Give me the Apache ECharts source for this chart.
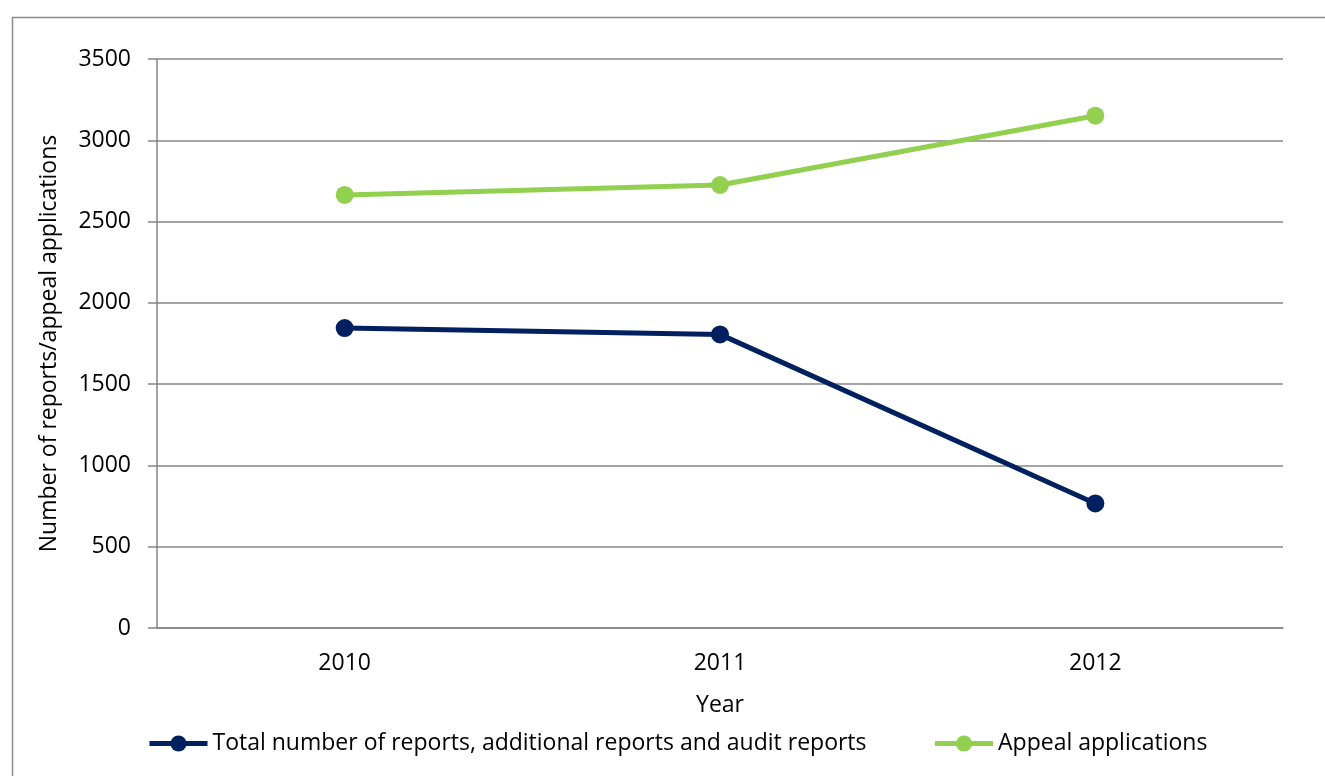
<!DOCTYPE html>
<html>
<head>
<meta charset="utf-8">
<script src="https://cdn.jsdelivr.net/npm/echarts@6/dist/echarts.min.js"></script>
<style>
html,body{margin:0;padding:0;background:#fff;}
#chart{width:1325px;height:776px;}
</style>
</head>
<body>
<div id="chart"></div>
<script>
const years = ['2010', '2011', '2012'];
const reportsName = 'Total number of reports, additional reports and audit reports';
const appealsName = 'Appeal applications';
const reportsValues = [1845, 1806, 766];
const appealsValues = [2664, 2725, 3151];
const yTicks = { min: 0, max: 3500, interval: 500 };

const FONT = 'Open Sans';
const FS = 23;
const chart = echarts.init(document.getElementById('chart'), null, { renderer: 'canvas' });
chart.setOption({
  animation: false,
  backgroundColor: '#ffffff',
  textStyle: { fontFamily: FONT, color: '#000' },
  graphic: [{
    type: 'rect', left: 10, top: 15,
    shape: { width: 1400, height: 800 },
    style: { fill: 'none', stroke: '#8c8c8c', lineWidth: 1.5 },
    silent: true
  }],
  grid: { left: 157, top: 59, right: 42, bottom: 148, containLabel: false },
  legend: {
    left: 147, top: 732, padding: 0,
    itemWidth: 58, itemHeight: 20, itemGap: 66,
    lineStyle: { width: 5 },
    textStyle: { fontFamily: FONT, fontSize: FS, color: '#000' },
    data: [reportsName, appealsName]
  },
  xAxis: {
    type: 'category', data: years, boundaryGap: true,
    name: 'Year', nameLocation: 'middle', nameGap: 66,
    nameTextStyle: { fontFamily: FONT, fontSize: FS, color: '#000' },
    axisLine: { lineStyle: { color: '#868686', width: 1.5 } },
    axisTick: { show: false },
    axisLabel: { fontFamily: FONT, fontSize: FS, color: '#000', margin: 24 },
    splitLine: { show: false }
  },
  yAxis: {
    type: 'value', min: yTicks.min, max: yTicks.max, interval: yTicks.interval,
    name: 'Number of reports/appeal applications', nameLocation: 'middle', nameGap: 96,
    nameTextStyle: { fontFamily: FONT, fontSize: FS, color: '#000' },
    axisLine: { show: true, lineStyle: { color: '#868686', width: 1.5 } },
    axisTick: { show: true, length: 9, lineStyle: { color: '#868686', width: 1.5 } },
    axisLabel: { fontFamily: FONT, fontSize: FS, color: '#000', margin: 26, formatter: v => String(v) },
    splitLine: { show: true, lineStyle: { color: '#868686', width: 1.5 } }
  },
  series: [
    {
      name: reportsName, type: 'line', data: reportsValues,
      symbol: 'circle', symbolSize: 18,
      lineStyle: { color: '#002060', width: 5 },
      itemStyle: { color: '#002060' }
    },
    {
      name: appealsName, type: 'line', data: appealsValues,
      symbol: 'circle', symbolSize: 18,
      lineStyle: { color: '#92D050', width: 5 },
      itemStyle: { color: '#92D050' }
    }
  ]
});
</script>
</body>
</html>
